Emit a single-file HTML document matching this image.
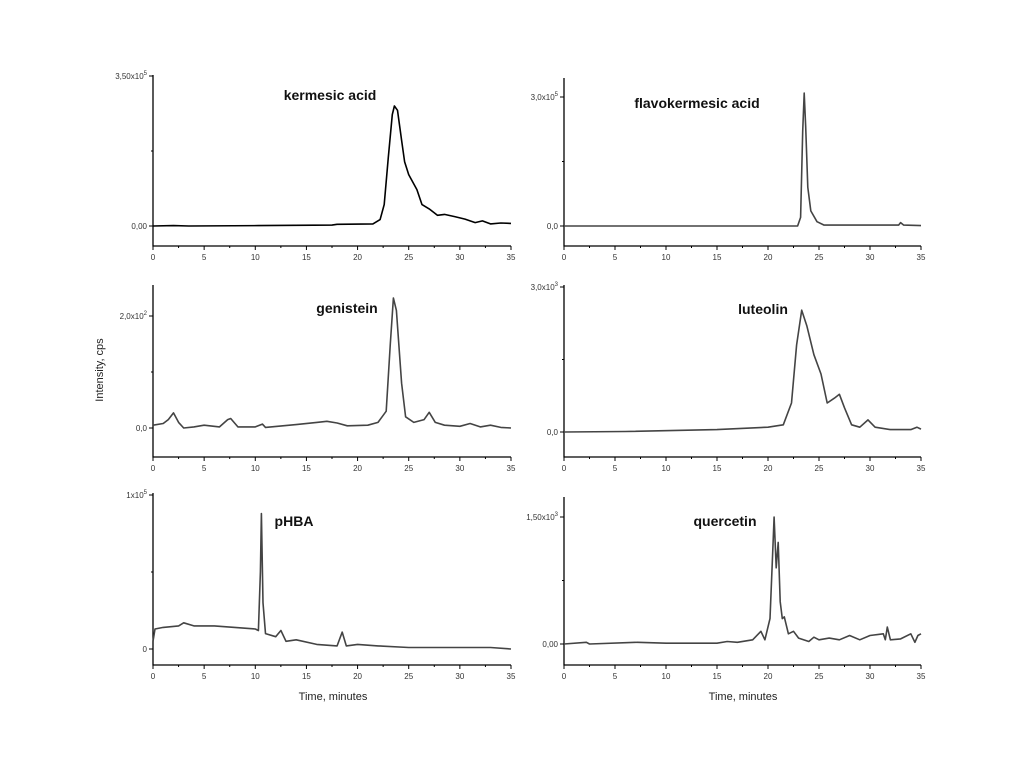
<!DOCTYPE html>
<html><head><meta charset="utf-8"><style>
body{margin:0;background:#fff}
svg{display:block;font-family:"Liberation Sans",Arial,sans-serif}
</style></head><body>
<svg id="c" width="1024" height="783" viewBox="0 0 1024 783">
<text x="103" y="370" font-size="11" fill="#222" text-anchor="middle" transform="rotate(-90 103 370)">Intensity, cps</text>
<text x="333" y="700" font-size="11" fill="#222" text-anchor="middle">Time, minutes</text>
<text x="743" y="700" font-size="11" fill="#222" text-anchor="middle">Time, minutes</text>
</svg>
<script>
const xTicks=[0,5,10,15,20,25,30,35];
const kermesic=[[0,0],[2,0.01],[3.5,0],[10.3,0.01],[17.5,0.02],[18,0.04],[21.5,0.05],[22.2,0.15],[22.6,0.5],[23,1.6],[23.4,2.6],[23.6,2.8],[23.9,2.7],[24.3,2.0],[24.6,1.5],[25,1.2],[25.8,0.85],[26.3,0.5],[27,0.4],[27.8,0.25],[28.5,0.27],[29.5,0.22],[30.5,0.16],[31.5,0.08],[32.2,0.12],[33,0.05],[34,0.07],[35,0.06]];
const flavokermesic=[[0,0],[22.9,0],[23.2,0.2],[23.4,2.2],[23.55,3.09],[23.7,2.3],[23.9,0.9],[24.2,0.35],[24.8,0.1],[25.5,0.02],[32.8,0.02],[33,0.08],[33.3,0.02],[35,0.01]];
const genistein=[[0,0.05],[1,0.08],[1.5,0.15],[2,0.27],[2.5,0.1],[3,0],[4,0.02],[5,0.05],[6.5,0.02],[7.3,0.15],[7.6,0.17],[8.3,0.02],[10,0.02],[10.7,0.07],[11,0.01],[14,0.06],[16,0.1],[17,0.12],[18,0.09],[19,0.04],[21,0.05],[22,0.1],[22.8,0.3],[23.2,1.5],[23.5,2.32],[23.8,2.1],[24.3,0.8],[24.7,0.2],[25.5,0.1],[26.5,0.15],[27,0.28],[27.6,0.1],[28.5,0.05],[30,0.03],[31,0.08],[32,0.02],[33,0.05],[34,0.01],[35,0]];
const luteolin=[[0,0],[6,0.01],[15,0.05],[20,0.1],[21.5,0.15],[22.3,0.6],[22.8,1.8],[23.3,2.52],[23.8,2.2],[24.5,1.6],[25.2,1.2],[25.8,0.6],[26.5,0.7],[27,0.78],[27.5,0.5],[28.2,0.15],[29,0.1],[29.8,0.25],[30.5,0.1],[32,0.05],[34,0.05],[34.6,0.1],[35,0.06]];
const phba=[[0,0.05],[0.2,0.13],[1,0.14],[2.5,0.15],[3,0.17],[4,0.15],[6,0.15],[8,0.14],[10,0.13],[10.3,0.12],[10.5,0.5],[10.6,0.88],[10.75,0.3],[11,0.1],[12,0.08],[12.5,0.12],[13,0.05],[14,0.06],[16,0.03],[18,0.02],[18.5,0.11],[18.9,0.02],[20,0.03],[22,0.02],[25,0.01],[28,0.01],[30,0.01],[33,0.01],[35,0]];
const quercetin=[[0,0],[2.2,0.02],[2.5,0],[7.2,0.02],[10,0.01],[13,0.01],[15,0.01],[16,0.03],[17,0.02],[18.5,0.05],[19.3,0.15],[19.7,0.05],[20.2,0.3],[20.5,1.2],[20.6,1.5],[20.8,0.9],[21,1.2],[21.2,0.5],[21.4,0.3],[21.6,0.32],[22,0.12],[22.5,0.15],[23,0.07],[24,0.03],[24.5,0.08],[25,0.05],[26,0.07],[27,0.05],[28,0.1],[29,0.05],[30,0.1],[31.3,0.12],[31.5,0.05],[31.7,0.2],[32,0.05],[33,0.06],[34,0.12],[34.4,0.02],[34.7,0.1],[35,0.12]];
const yTopValues=[3.5,3.0,2.0,3.0,1,1.5];
const yTopLabels=["3,50x10","3,0x10","2,0x10","3,0x10","1x10","1,50x10"];
const yExps=["5","5","2","3","5","3"];
const zeroLabels=["0,00","0,0","0,0","0,0","0","0,00"];
const titles=["kermesic acid","flavokermesic acid","genistein","luteolin","pHBA","quercetin"];
const series=[kermesic,flavokermesic,genistein,luteolin,phba,quercetin];
const P=[
 {x0:153,x1:511,top:75,bot:246,zy:226,ty:76,tx:330,tty:100,stroke:"#000"},
 {x0:564,x1:921,top:78,bot:246,zy:226,ty:97,tx:697,tty:108,stroke:"#444"},
 {x0:153,x1:511,top:285,bot:457,zy:428,ty:316,tx:347,tty:313,stroke:"#444"},
 {x0:564,x1:921,top:285,bot:457,zy:432,ty:287,tx:763,tty:314,stroke:"#444"},
 {x0:153,x1:511,top:493,bot:665,zy:649,ty:495,tx:294,tty:526,stroke:"#444"},
 {x0:564,x1:921,top:497,bot:665,zy:644,ty:517,tx:725,tty:526,stroke:"#444"}];
const svg=document.getElementById('c');const NS="http://www.w3.org/2000/svg";
function mk(tag,attrs,parent){const e=document.createElementNS(NS,tag);for(const k in attrs)e.setAttribute(k,attrs[k]);(parent||svg).appendChild(e);return e;}
P.forEach((p,i)=>{
 const g=mk('g',{});
 
 
 const xs=t=>p.x0+(p.x1-p.x0)*t/35;
 const ys=v=>p.zy-(p.zy-p.ty)*v/yTopValues[i];
 const ax=mk('path',{d:`M${p.x0},${p.top}V${p.bot}H${p.x1}`,stroke:'#000','stroke-width':1.3,fill:'none'},g);
 
 for(let t=0;t<=35;t+=2.5){const maj=t%5===0;mk('line',{x1:xs(t),x2:xs(t),y1:p.bot,y2:p.bot+(maj?4:2),stroke:'#000','stroke-width':1},g);}
 xTicks.forEach(t=>{const tl=mk('text',{x:xs(t),y:p.bot+14,'font-size':8,fill:'#333','text-anchor':'middle'},g);tl.textContent=t;
  });
 [0,yTopValues[i]/2,yTopValues[i]].forEach((v,k)=>{mk('line',{x1:p.x0-(k===1?2:4),x2:p.x0,y1:ys(v),y2:ys(v),stroke:'#000','stroke-width':1},g);});
 const zl=mk('text',{x:p.x0-6,y:p.zy+3,'font-size':8,fill:'#333','text-anchor':'end'},g);zl.textContent=zeroLabels[i];
 
 const tl=mk('text',{x:p.x0-6,y:p.ty+3,'font-size':8,fill:'#333','text-anchor':'end'},g);
 
 const t1=mk('tspan',{},tl);t1.textContent=yTopLabels[i];
 const t2=mk('tspan',{'font-size':6,dy:-4},tl);t2.textContent=yExps[i];
 const ti=mk('text',{x:p.tx,y:p.tty,'font-size':14,'font-weight':'bold',fill:'#111','text-anchor':'middle'},g);ti.textContent=titles[i];
 
 const d=series[i].map((pt,j)=>(j?'L':'M')+xs(pt[0]).toFixed(1)+','+ys(pt[1]).toFixed(1)).join('');
 const ln=mk('path',{d:d,stroke:p.stroke,'stroke-width':1.6,fill:'none','stroke-linejoin':'round'},g);
 
});
</script>
</body></html>
